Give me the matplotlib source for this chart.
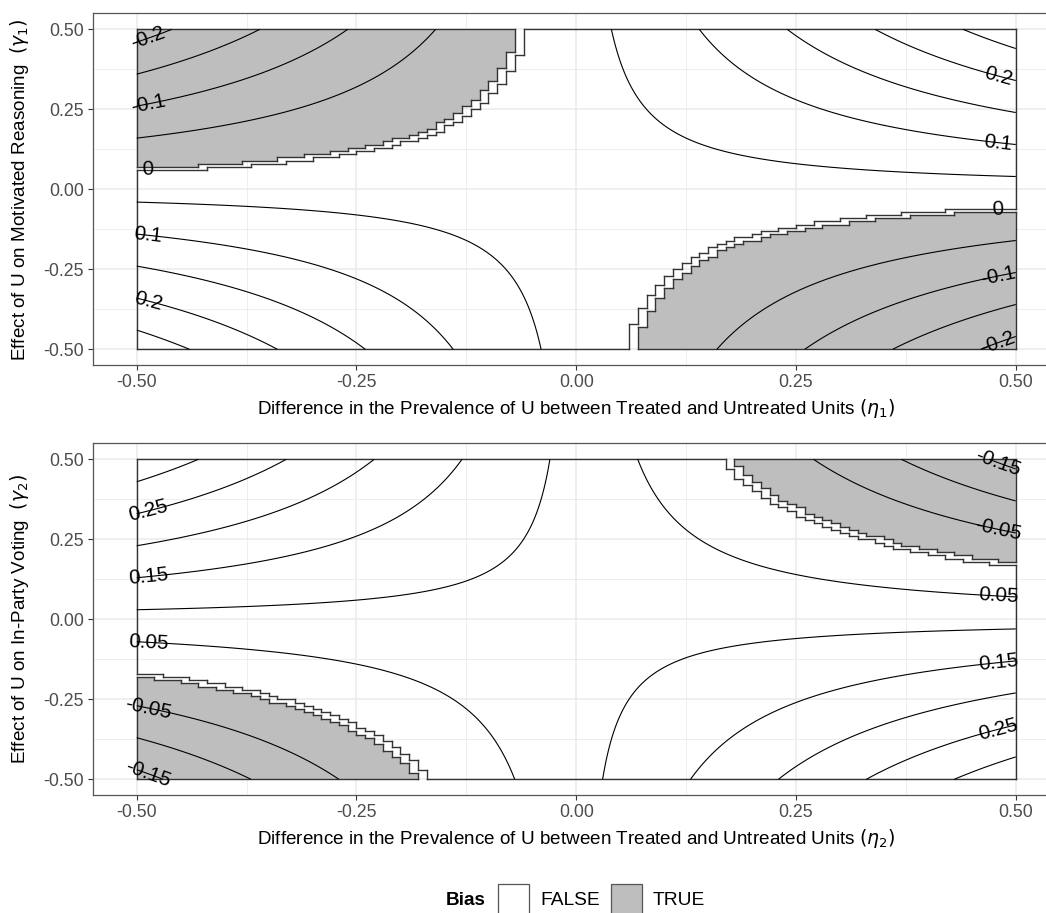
import numpy as np
import matplotlib
matplotlib.use('Agg')
import matplotlib.pyplot as plt
from matplotlib.collections import LineCollection
from matplotlib.colors import ListedColormap
from matplotlib.patches import Rectangle

plt.rcParams['font.family'] = ['Liberation Sans', 'DejaVu Sans']
plt.rcParams['mathtext.fontset'] = 'dejavusans'
plt.rcParams['axes.unicode_minus'] = False

###############
# DATA
###############
# grid the bias was evaluated on (tiles are 0.01 wide)
eta_values = np.round(np.arange(-0.5, 0.5001, 0.01), 2)
gamma_values = np.round(np.arange(-0.5, 0.5001, 0.01), 2)
# finer grid for smooth contour lines
eta_fine = np.linspace(-0.5, 0.5, 401)
gamma_fine = np.linspace(-0.5, 0.5, 401)

# bias = intercept + sign * gamma * eta
bias_intercept = [0.03, 0.085]
bias_sign = [1, -1]

contour_levels = [-0.25, -0.2, -0.15, -0.1, -0.05, 0.0, 0.05, 0.1, 0.15, 0.2, 0.25, 0.3]
labelled_levels = [[-0.2, -0.1, 0.0, 0.1, 0.2],
                   [-0.15, -0.05, 0.05, 0.15, 0.25]]

tick_values = [-0.5, -0.25, 0.0, 0.25, 0.5]
tick_labels = ['-0.50', '-0.25', '0.00', '0.25', '0.50']
minor_values = [-0.375, -0.125, 0.125, 0.375]

y_titles = [r'Effect of U on Motivated Reasoning  $(\gamma_1)$',
            r'Effect of U on In-Party Voting  $(\gamma_2)$']
x_titles = [r'Difference in the Prevalence of U between Treated and Untreated Units $(\eta_1)$',
            r'Difference in the Prevalence of U between Treated and Untreated Units $(\eta_2)$']

legend_labels = ['FALSE', 'TRUE']
legend_colors = ['white', '#BEBEBE']

OUTLINE = '#333333'


def runs(flags):
    # (start, stop) index pairs of consecutive True values
    out = []
    start = None
    for n, f in enumerate(list(flags) + [False]):
        if f and start is None:
            start = n
        elif not f and start is not None:
            out.append((start, n))
            start = None
    return out


def region_outline(cells):
    # edge of a block of grid cells, merged into straight runs
    padded = np.pad(cells, 1, constant_values=False)
    segs = []
    diff_v = padded[1:-1, :-1] != padded[1:-1, 1:]
    for j in range(diff_v.shape[1]):
        for a, b in runs(diff_v[:, j]):
            segs.append([(eta_values[j], gamma_values[a]), (eta_values[j], gamma_values[b])])
    diff_h = padded[:-1, 1:-1] != padded[1:, 1:-1]
    for i in range(diff_h.shape[0]):
        for a, b in runs(diff_h[i, :]):
            segs.append([(eta_values[a], gamma_values[i]), (eta_values[b], gamma_values[i])])
    return segs


fig = plt.figure(figsize=(10.46, 9.13), dpi=100)
ax_top = fig.add_axes([0.0887, 0.5999, 0.9244, 0.3855])
ax_bot = fig.add_axes([0.0887, 0.1289, 0.9244, 0.3855])

for k, ax in enumerate([ax_top, ax_bot]):
    ax.set_xlim(-0.55, 0.55)
    ax.set_ylim(-0.55, 0.55)

    E, G = np.meshgrid(eta_values, gamma_values)
    bias = bias_intercept[k] + bias_sign[k] * G * E
    flag = bias < 0
    true_cells = flag[:-1, :-1] & flag[1:, :-1] & flag[:-1, 1:] & flag[1:, 1:]
    false_cells = ~flag[:-1, :-1] & ~flag[1:, :-1] & ~flag[:-1, 1:] & ~flag[1:, 1:]

    ax.pcolormesh(eta_values, gamma_values, np.where(true_cells, 1.0, np.nan),
                  cmap=ListedColormap([legend_colors[1]]), vmin=0, vmax=1,
                  shading='flat', zorder=1)
    for cells in (false_cells, true_cells):
        lc = LineCollection(region_outline(cells), colors=OUTLINE, linewidths=1.0,
                            capstyle='projecting', zorder=2)
        ax.add_collection(lc)

    Ef, Gf = np.meshgrid(eta_fine, gamma_fine)
    Z = bias_intercept[k] + bias_sign[k] * Gf * Ef
    lws = [0 if lv == 0 else 0.8 for lv in contour_levels]
    cs = ax.contour(eta_fine, gamma_fine, Z, levels=contour_levels, colors='black',
                    linewidths=lws, linestyles='solid', zorder=3)

    # labels sit where each labelled line meets the left / right edge
    spots = []
    for lv in labelled_levels[k]:
        for e0 in (-0.487, 0.48):
            g0 = (lv - bias_intercept[k]) / (bias_sign[k] * e0)
            if abs(g0) <= 0.5:
                spots.append((e0, g0))
    texts = ax.clabel(cs, levels=list(cs.levels), manual=spots, inline=False, fontsize=14.8,
                      colors='black', fmt=lambda v: f'{round(v, 2):g}')
    for t in texts:
        t.set_zorder(4)

    ax.set_xticks(tick_values)
    ax.set_xticklabels(tick_labels)
    ax.set_yticks(tick_values)
    ax.set_yticklabels(tick_labels)
    ax.set_xticks(minor_values, minor=True)
    ax.set_yticks(minor_values, minor=True)
    ax.grid(which='major', color='#EBEBEB', linewidth=1.1)
    ax.grid(which='minor', color='#EBEBEB', linewidth=0.6)
    ax.set_axisbelow(True)
    ax.tick_params(which='major', length=3.4, width=0.8, color='#333333',
                   labelcolor='#4D4D4D', labelsize=12.8, pad=3)
    ax.tick_params(which='minor', length=0)
    for sp in ax.spines.values():
        sp.set_color('#555555')
        sp.set_linewidth(0.9)

    ax.set_ylabel(y_titles[k], fontsize=13.6, color='black')
    ax.yaxis.set_label_coords(-0.064, 0.5)
    ax.set_xlabel(x_titles[k], fontsize=13.6, color='black')
    ax.xaxis.set_label_coords(0.5, -0.09)

# legend along the bottom
fig.text(486 / 1046, 1 - 900 / 913, 'Bias', fontsize=13.6, fontweight='bold',
         ha='right', va='center')
key_left = [498, 611]
for x0, lab, col in zip(key_left, legend_labels, legend_colors):
    fig.add_artist(Rectangle((x0 / 1046, 1 - 915 / 913), 31 / 1046, 31 / 913,
                             transform=fig.transFigure, facecolor=col,
                             edgecolor='#555555', linewidth=0.9))
    fig.text((x0 + 42) / 1046, 1 - 900 / 913, lab, fontsize=13.8, ha='left', va='center')

fig.savefig('out.png', dpi=100)
